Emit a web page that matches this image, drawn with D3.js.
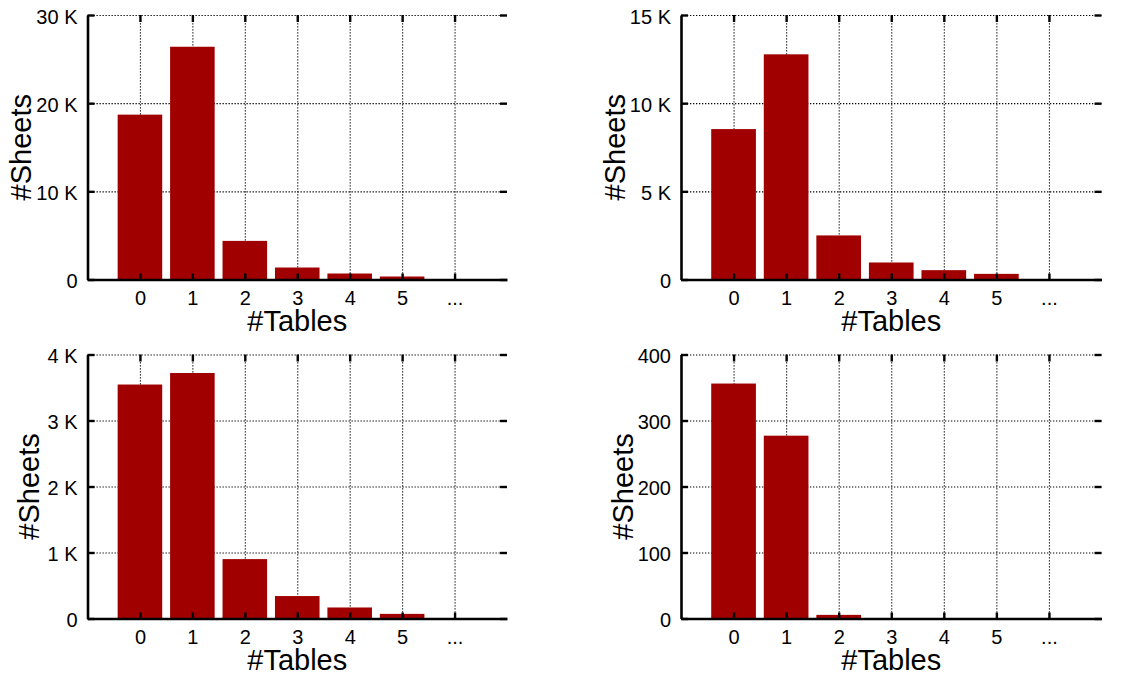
<!DOCTYPE html>
<html>
<head>
<meta charset="utf-8">
<script src="https://cdn.jsdelivr.net/npm/d3@7"></script>
<style>
  html, body { margin: 0; padding: 0; background: #fff; }
  svg { display: block; font-family: "Liberation Sans", Arial, Helvetica, sans-serif; }
</style>
</head>
<body>
<svg id="chart" width="1139" height="674"></svg>
<script>
// Number of tables per sheet, one histogram per corpus
const categories = ["0", "1", "2", "3", "4", "5", "..."];

const sheetsTopLeft     = [18700, 26400, 4380, 1360, 680, 340, 0];
const sheetsTopRight    = [8530, 12770, 2500, 965, 530, 320, 0];
const sheetsBottomLeft  = [3545, 3720, 900, 340, 167, 70, 0];
const sheetsBottomRight = [356, 277, 5.5, 0, 0, 0, 0];

const yTicksTopLeft     = [0, 10000, 20000, 30000];
const yTicksTopRight    = [0, 5000, 10000, 15000];
const yTicksBottomLeft  = [0, 1000, 2000, 3000, 4000];
const yTicksBottomRight = [0, 100, 200, 300, 400];

const kFormat = d => d === 0 ? "0" : (d / 1000) + " K";
const plainFormat = d => String(d);

const xLabel = "#Tables";
const yLabel = "#Sheets";
const barColor = "#a00000";

const panels = [
  { values: sheetsTopLeft,     ticks: yTicksTopLeft,     fmt: kFormat,     left: 87.5,  right: 507,    top: 15,  bottom: 279.5, yTitleX: 31 },
  { values: sheetsTopRight,    ticks: yTicksTopRight,    fmt: kFormat,     left: 681,   right: 1101.5, top: 15,  bottom: 279.5, yTitleX: 625 },
  { values: sheetsBottomLeft,  ticks: yTicksBottomLeft,  fmt: kFormat,     left: 87.5,  right: 507,    top: 354.5, bottom: 618.5, yTitleX: 39 },
  { values: sheetsBottomRight, ticks: yTicksBottomRight, fmt: plainFormat, left: 681,   right: 1101.5, top: 354.5, bottom: 618.5, yTitleX: 633 }
];

const svg = d3.select("#chart");
const tickLen = 7;
const tickFont = 20;

panels.forEach(p => {
  const w = p.right - p.left;
  const h = p.bottom - p.top;
  const g = svg.append("g").attr("transform", `translate(${p.left},${p.top})`);

  // category index axis runs one slot beyond each end
  const x = d3.scaleLinear().domain([-1, categories.length]).range([0, w]);
  const y = d3.scaleLinear().domain([0, d3.max(p.ticks)]).range([h, 0]);
  const idx = d3.range(categories.length);
  const bw = 0.85 * (x(1) - x(0));

  // dotted grid
  const gridY = g.append("g").call(d3.axisLeft(y).tickValues(p.ticks).tickSize(-w).tickFormat(""));
  const gridX = g.append("g").attr("transform", `translate(0,${h})`)
    .call(d3.axisBottom(x).tickValues(idx).tickSize(-h).tickFormat(""));
  [gridY, gridX].forEach(gr => {
    gr.select(".domain").remove();
    gr.selectAll("line").attr("stroke", "#000").attr("stroke-width", 1.1)
      .attr("stroke-dasharray", "1.3,1.7");
  });

  // bars
  g.selectAll("rect.bar").data(p.values).join("rect")
    .attr("class", "bar")
    .attr("x", (d, i) => x(i) - bw / 2)
    .attr("width", bw)
    .attr("y", d => y(d))
    .attr("height", d => h - y(d))
    .attr("fill", barColor);

  // left axis with labels
  const ax = g.append("g").call(
    d3.axisLeft(y).tickValues(p.ticks).tickFormat(p.fmt).tickSize(-tickLen).tickSizeOuter(0).tickPadding(10)
  );
  ax.select(".domain").attr("stroke", "#000").attr("stroke-width", 2.6);
  ax.selectAll(".tick line").attr("stroke", "#000").attr("stroke-width", 2.4);
  ax.selectAll(".tick text").attr("font-size", tickFont).attr("fill", "#000").attr("dy", "0.4em")
    .attr("font-family", '"Liberation Sans", Arial, sans-serif');

  // bottom axis with labels
  const bx = g.append("g").attr("transform", `translate(0,${h})`).call(
    d3.axisBottom(x).tickValues(idx).tickFormat(i => categories[i]).tickSize(-6).tickSizeOuter(0).tickPadding(11)
  );
  bx.select(".domain").attr("stroke", "#000").attr("stroke-width", 2.6);
  bx.selectAll(".tick line").attr("stroke", "#000").attr("stroke-width", 2.4);
  bx.selectAll(".tick text").attr("font-size", tickFont).attr("fill", "#000")
    .attr("font-family", '"Liberation Sans", Arial, sans-serif');

  // mirrored ticks on top and right
  const tx = g.append("g").call(d3.axisTop(x).tickValues(idx).tickFormat("").tickSize(-tickLen).tickSizeOuter(0));
  const rx = g.append("g").attr("transform", `translate(${w},0)`)
    .call(d3.axisRight(y).tickValues(p.ticks).tickFormat("").tickSize(-tickLen).tickSizeOuter(0));
  [tx, rx].forEach(a => {
    a.select(".domain").remove();
    a.selectAll("line").attr("stroke", "#000").attr("stroke-width", 2.4);
  });

  // axis titles
  svg.append("text")
    .attr("x", p.left + w / 2)
    .attr("y", p.bottom + 51)
    .attr("text-anchor", "middle")
    .attr("font-size", 29)
    .text(xLabel);

  svg.append("text")
    .attr("transform", `translate(${p.yTitleX},${p.top + h / 2}) rotate(-90)`)
    .attr("text-anchor", "middle")
    .attr("font-size", 29)
    .text(yLabel);
});
</script>
</body>
</html>
